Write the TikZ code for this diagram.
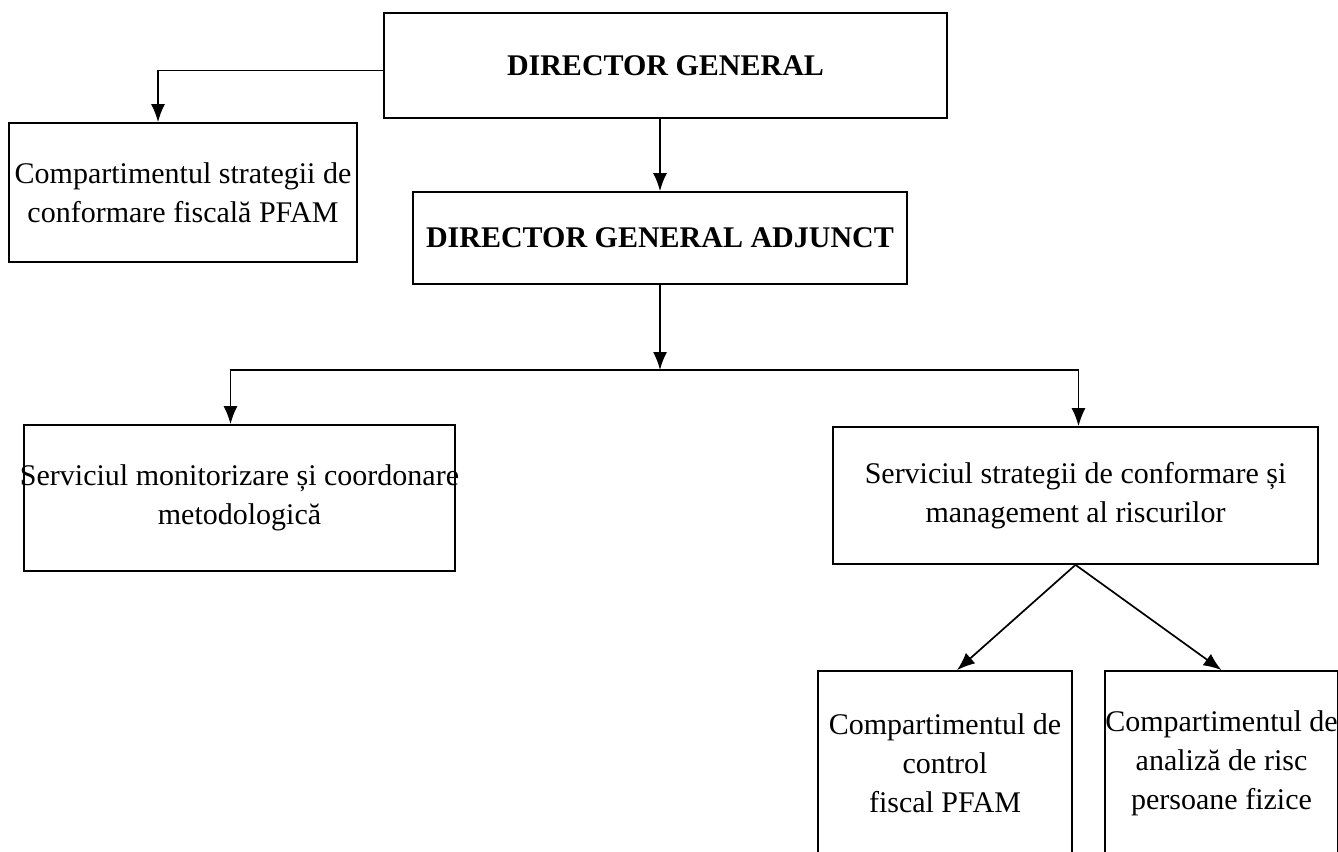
\documentclass[tikz,border=0pt]{standalone}
\usepackage{fontspec}
\setmainfont{Liberation Serif}
\usetikzlibrary{arrows.meta,positioning}
\tikzset{every picture/.style={/utils/exec={\fontsize{30}{39}\selectfont}}}

\begin{document}
\begin{tikzpicture}[x=1pt, y=-1pt, line width=1.7pt]
  \tikzstyle{box} = [rectangle, draw=black, align=center, inner sep=0pt]
  \tikzstyle{arrow} = [-{Latex[length=18pt,width=14pt]}]

  \clip (0,0) rectangle (1338,851);

  \node (dg) [box, minimum width=563pt, minimum height=105pt] at (665.5,65.5) {\textbf{DIRECTOR GENERAL}};
  \node (comp) [box, minimum width=348pt, minimum height=139pt] at (183,192.5) {Compartimentul strategii de\\conformare fiscală PFAM};
  \node (dga) [box, minimum width=494pt, minimum height=92pt] at (660,238) {\textbf{DIRECTOR GENERAL ADJUNCT}};
  \node (mon) [box, inner xsep=-4pt, minimum width=427pt, minimum height=146pt] at (239.5,498) {Serviciul monitorizare și coordonare\\metodologică};
  \node (risk) [box, minimum width=485pt, minimum height=137pt] at (1075.5,495.5) {Serviciul strategii de conformare și\\management al riscurilor};
  \node (ctrl) [box, minimum width=254pt, minimum height=184pt] at (945,763) {Compartimentul de\\control\\fiscal PFAM};
  \node (anal) [box, minimum width=231pt, minimum height=184pt] at (1221.5,763) {Compartimentul de\\analiză de risc\\persoane fizice};

  \coordinate (split) at (660,370);

  \draw [arrow] ([yshift=-5pt]dg.west) -| ([xshift=-25pt]comp.north);
  \draw [arrow] (dg.south -| dga.north) -- (dga.north);
  \draw [arrow] (dga.south) -- (split);
  % horizontal then vertical
  \draw [arrow] (split) -| ([xshift=-9pt]mon.north);
  \draw [arrow] (split) -| ([xshift=3pt]risk.north);
  \draw [arrow] (risk.south) -- ([xshift=12pt]ctrl.north);
  \draw [arrow] (risk.south) -- (anal.north);
\end{tikzpicture}
\end{document}
